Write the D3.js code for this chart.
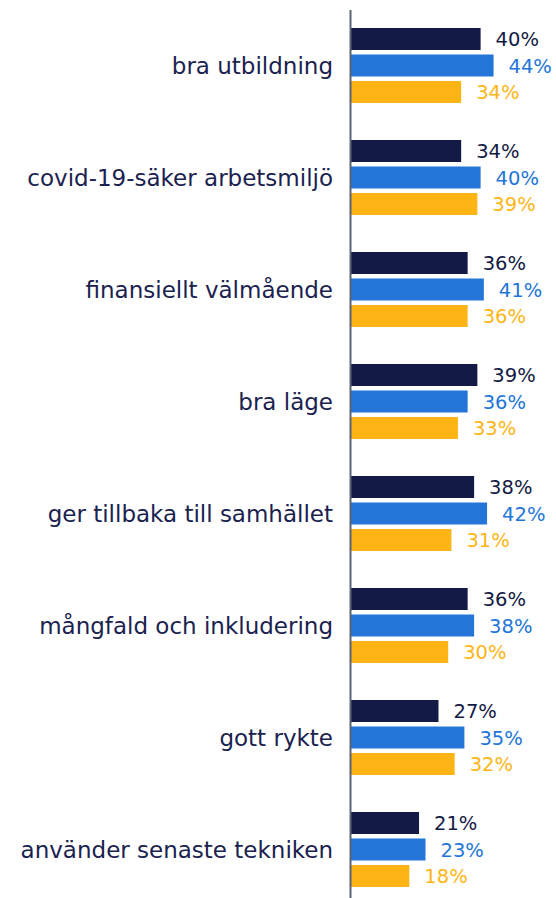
<!DOCTYPE html>
<html>
<head>
<meta charset="utf-8">
<script src="https://cdn.jsdelivr.net/npm/d3@7"></script>
<style>
  body { margin: 0; background: #fff; }
  svg { display: block; font-family: "DejaVu Sans", Verdana, sans-serif; }
</style>
</head>
<body>
<svg id="chart"></svg>
<script>
// Chart size
const width = 556;
const height = 898;

// Data
const categories = [
  "bra utbildning",
  "covid-19-säker arbetsmiljö",
  "finansiellt välmående",
  "bra läge",
  "ger tillbaka till samhället",
  "mångfald och inkludering",
  "gott rykte",
  "använder senaste tekniken"
];
const series = ["s1", "s2", "s3"];
const values1 = [40, 34, 36, 39, 38, 36, 27, 21];
const values2 = [44, 40, 41, 36, 42, 38, 35, 23];
const values3 = [34, 39, 36, 33, 31, 30, 32, 18];
const colors = ["#131a45", "#2376d8", "#fdb515"];

const allValues = [values1, values2, values3];
const rows = categories.map((c, i) => ({
  cat: c,
  vals: series.map((s, j) => ({ key: s, value: allValues[j][i], idx: j }))
}));

const svg = d3.select("#chart")
  .attr("width", width)
  .attr("height", height);

const axisX = 351;

// Scales
const x = d3.scaleLinear().domain([0, 100]).range([axisX, axisX + 324]);

const y0 = d3.scaleBand()
  .domain(categories)
  .range([28, 28 + 112 * categories.length]);

const y1 = d3.scaleBand()
  .domain(series)
  .range([0, 75])
  .paddingInner(0.17);

const groups = svg.selectAll(".group")
  .data(rows)
  .enter()
  .append("g")
  .attr("class", "group")
  .attr("transform", d => `translate(0, ${y0(d.cat)})`);

// Bars
groups.selectAll("rect")
  .data(d => d.vals)
  .enter()
  .append("rect")
  .attr("x", x(0))
  .attr("y", d => y1(d.key))
  .attr("width", d => x(d.value) - x(0))
  .attr("height", y1.bandwidth())
  .attr("fill", d => colors[d.idx]);

// Value labels
groups.selectAll(".val")
  .data(d => d.vals)
  .enter()
  .append("text")
  .attr("class", "val")
  .attr("x", d => x(d.value) + 15)
  .attr("y", d => y1(d.key) + y1.bandwidth() / 2)
  .attr("dy", "0.36em")
  .attr("font-size", 19.5)
  .attr("fill", d => colors[d.idx])
  .text(d => d.value + "%");

// Category labels
groups.append("text")
  .attr("x", axisX - 18)
  .attr("y", y1("s2") + y1.bandwidth() / 2)
  .attr("dy", "0.36em")
  .attr("text-anchor", "end")
  .attr("font-size", 23)
  .attr("fill", "#1a2250")
  .text(d => d.cat);

// Vertical axis line
svg.append("line")
  .attr("x1", axisX - 0.5)
  .attr("x2", axisX - 0.5)
  .attr("y1", 10)
  .attr("y2", height)
  .attr("stroke", "#5b6275")
  .attr("stroke-width", 2);
</script>
</body>
</html>
